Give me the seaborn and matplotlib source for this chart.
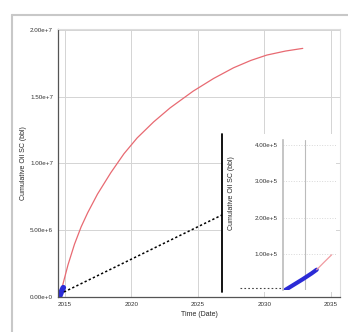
import matplotlib.pyplot as plt
import seaborn as sns
from matplotlib.lines import Line2D
from matplotlib.patches import Rectangle

# forecast (red) cumulative oil, years vs bbl
fc_years = [2014.7, 2014.75, 2015.25, 2015.74, 2016.24, 2016.73, 2017.47, 2018.47, 2019.46,
            2020.45, 2021.69, 2022.93, 2024.66, 2026.2, 2027.7, 2029.0, 2030.2, 2031.6, 2032.9]
fc_oil = [0.0, 5.0e5, 2.4e6, 3.95e6, 5.25e6, 6.3e6, 7.7e6, 9.3e6, 1.072e7,
          1.19e7, 1.31e7, 1.415e7, 1.54e7, 1.635e7, 1.715e7, 1.77e7, 1.81e7, 1.84e7, 1.86e7]

# history (blue) as it shows on the main chart
main_hist_years = [2014.6, 2014.7, 2014.8, 2014.9]
main_hist_oil = [0.0, 2.5e5, 5.0e5, 7.0e5]

# history (blue) in the inset
hist_years = [2014.62, 2014.70, 2014.78, 2014.86, 2014.905]
hist_oil = [0.0, 1.5e4, 3.0e4, 4.6e4, 5.6e4]

# inset forecast continuation
ins_years = [2014.905, 2014.97, 2015.04]
ins_oil = [5.6e4, 7.6e4, 9.7e4]

main_yticks = [0, 5e6, 1e7, 1.5e7, 2e7]
main_ylabels = ["0.00e+0", "5.00e+6", "1.00e+7", "1.50e+7", "2.00e+7"]
main_xticks = [2015, 2020, 2025, 2030, 2035]
ins_yticks = [1e5, 2e5, 3e5, 4e5]
ins_ylabels = ["1.00e+5", "2.00e+5", "3.00e+5", "4.00e+5"]

sns.set_style("white")
plt.rcParams["font.family"] = ["Liberation Sans", "DejaVu Sans"]

fig = plt.figure(figsize=(3.48, 3.32), dpi=100)
W, H = 348, 332


def fx(px):
    return px / W


def fy(py):
    return 1 - py / H


# window frame
fig.add_artist(Line2D([fx(12), fx(348)], [fy(15), fy(15)], color="#c8c8c8", lw=1.5))
fig.add_artist(Line2D([fx(12), fx(12)], [fy(15), fy(332)], color="#c8c8c8", lw=1.5))

ax = fig.add_axes([fx(58), fy(297), fx(340) - fx(58), fy(29) - fy(297)])
sns.lineplot(x=fc_years, y=fc_oil, ax=ax, color="#e86a72", lw=0.9)
sns.lineplot(x=main_hist_years, y=main_hist_oil, ax=ax, color="#2b2bd6", lw=4)
ax.set_xlim(2014.5, 2035.7)
ax.set_ylim(0, 2.005e7)
ax.set_xticks(main_xticks)
ax.set_xticklabels([str(t) for t in main_xticks], fontsize=4.5, color="#333333")
ax.set_yticks(main_yticks)
ax.set_yticklabels(main_ylabels, fontsize=4.5, color="#333333")
ax.tick_params(length=2, width=0.6, pad=1.5)
ax.grid(True, color="#d4d4d4", lw=0.7)
for s in ["left", "bottom"]:
    ax.spines[s].set_color("#555555")
    ax.spines[s].set_linewidth(0.9)
for s in ["top", "right"]:
    ax.spines[s].set_color("#dddddd")
ax.set_xlabel("Time (Date)", fontsize=5, labelpad=3)
ax.set_ylabel("Cumulative Oil SC (bbl)", fontsize=5, labelpad=2)

# inset panel
fig.add_artist(Rectangle((fx(222), fy(292)), fx(336) - fx(222), fy(134) - fy(292),
                         facecolor="white", edgecolor="none", zorder=3))
fig.add_artist(Line2D([fx(222), fx(222)], [fy(292), fy(134)], color="black", lw=1.3, zorder=4))

ia = fig.add_axes([fx(283), fy(290), fx(336) - fx(283), fy(140) - fy(290)], zorder=5)
ia.patch.set_alpha(0)
sns.lineplot(x=hist_years, y=hist_oil, ax=ia, color="#2b2bd6", lw=3)
sns.lineplot(x=ins_years, y=ins_oil, ax=ia, color="#f09aa0", lw=0.9)
ia.set_xlim(2014.60, 2015.08)
ia.set_ylim(0, 4.14e5)
ia.set_xticks([2014.8])
ia.set_xticklabels([])
ia.set_yticks(ins_yticks)
ia.set_yticklabels(ins_ylabels, fontsize=4.5, color="#333333")
ia.tick_params(length=2, width=0.6, pad=2)
ia.grid(True, axis="y", color="#d8d8d8", lw=0.7, ls=":")
ia.grid(True, axis="x", color="#bbbbbb", lw=0.8)
for s in ["top", "right", "bottom"]:
    ia.spines[s].set_visible(False)
ia.spines["left"].set_color("#bbbbbb")
ia.spines["left"].set_linewidth(1.2)
fig.text(fx(231), fy(193), "Cumulative Oil SC (bbl)", rotation=90, fontsize=5,
         ha="center", va="center", zorder=6)

# connector dotted lines
fig.add_artist(Line2D([fx(64), fx(222)], [fy(292), fy(215)], color="black", lw=1.1, ls=(0, (1.5, 1.5)), zorder=6))
fig.add_artist(Line2D([fx(240), fx(282)], [fy(288), fy(288)], color="#444444", lw=0.8, ls=(0, (1.5, 2)), zorder=6))

fig.savefig("out.png", dpi=100)
